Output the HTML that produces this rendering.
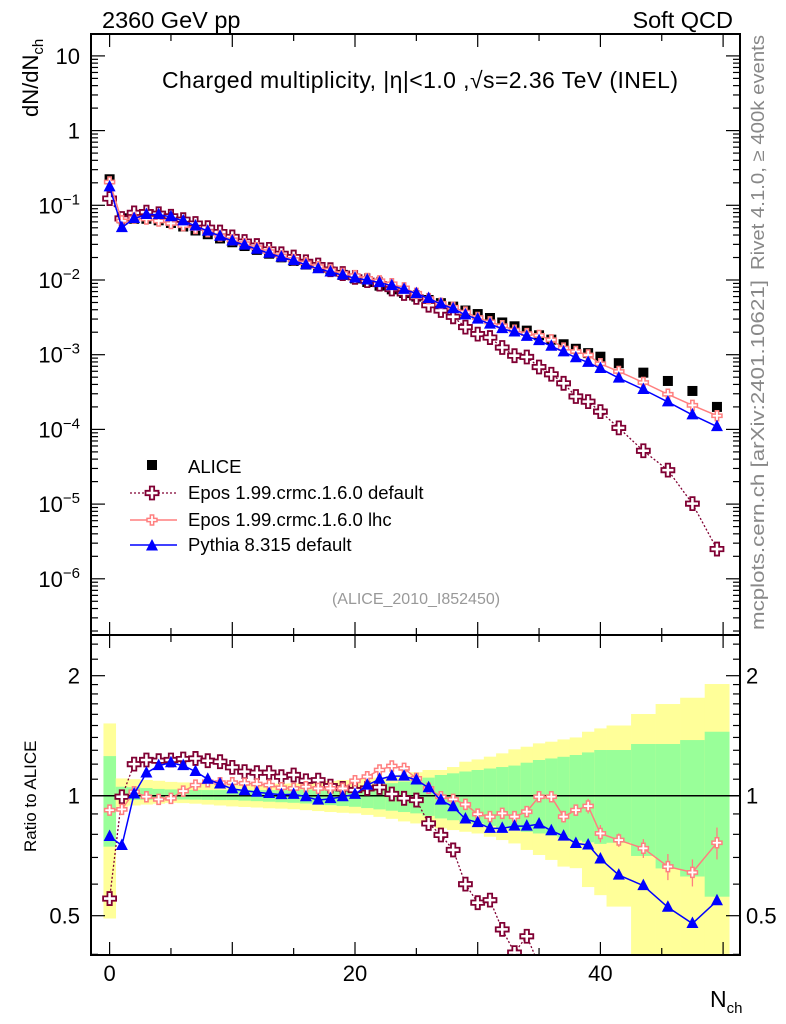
<!DOCTYPE html>
<html><head><meta charset="utf-8">
<style>
html,body{margin:0;padding:0;background:#fff;width:786px;height:1024px;overflow:hidden;}
svg{display:block;font-family:"Liberation Sans",sans-serif;}
</style></head>
<body>
<svg id="chart" width="786" height="1024" viewBox="0 0 786 1024" xmlns="http://www.w3.org/2000/svg">
<defs>
<clipPath id="clipTop"><rect x="91" y="34" width="649" height="601"/></clipPath>
<clipPath id="clipBot"><rect x="91" y="635" width="649" height="320"/></clipPath>
</defs>
<g id="bands" clip-path="url(#clipBot)"></g>
<line x1="91" x2="740" y1="795.7" y2="795.7" stroke="#000" stroke-width="1.5"/>
<g id="topMarks" clip-path="url(#clipTop)"></g>
<g id="botMarks" clip-path="url(#clipBot)"></g>
<g id="axes"></g>
<rect x="91" y="34" width="649" height="601" fill="none" stroke="#000" stroke-width="2"/>
<rect x="91" y="635" width="649" height="320" fill="none" stroke="#000" stroke-width="2"/>

<text x="102" y="28" font-size="23.5">2360 GeV pp</text>
<text x="733" y="28" font-size="23.5" text-anchor="end">Soft QCD</text>
<text x="420" y="88" font-size="23" text-anchor="middle" textLength="516">Charged multiplicity, |η|&lt;1.0 ,√s=2.36 TeV (INEL)</text>
<text transform="translate(38,117) rotate(-90)" font-size="22">dN/dN<tspan font-size="15" dy="5">ch</tspan></text>
<text transform="translate(36,852) rotate(-90)" font-size="17">Ratio to ALICE</text>
<text x="710" y="1007" font-size="23">N<tspan font-size="15" dy="6">ch</tspan></text>
<text transform="translate(764,270) rotate(-90)" font-size="18" fill="#888" textLength="235" lengthAdjust="spacingAndGlyphs">Rivet 4.1.0, ≥ 400k events</text>
<text transform="translate(764,630) rotate(-90)" font-size="18" fill="#888" textLength="350" lengthAdjust="spacingAndGlyphs">mcplots.cern.ch [arXiv:2401.10621]</text>
<text x="416" y="604" font-size="16" fill="#999" text-anchor="middle">(ALICE_2010_I852450)</text>

<g id="legend">
<rect x="147" y="460" width="10" height="10" fill="#000"/>
<text x="188" y="473" font-size="18.5">ALICE</text>
<line x1="130" x2="177" y1="493" y2="493" stroke="#800033" stroke-width="1.2" stroke-dasharray="2,2"/>
<text x="188" y="499" font-size="18.5">Epos 1.99.crmc.1.6.0 default</text>
<line x1="130" x2="177" y1="520" y2="520" stroke="#ff7f7f" stroke-width="1.5"/>
<text x="188" y="526" font-size="18.5">Epos 1.99.crmc.1.6.0 lhc</text>
<line x1="130" x2="177" y1="545" y2="545" stroke="#0000ff" stroke-width="1.5"/>
<text x="188" y="551" font-size="18.5">Pythia 8.315 default</text>
<g id="legendMarks"></g>
</g>
</svg>
<script>
const nch = [0,1,2,3,4,5,6,7,8,9,10,11,12,13,14,15,16,17,18,19,20,21,22,23,24,25,26,27,28,29,30,31,32,33,34,35,36,37,38,39,40,41.5,43.5,45.5,47.5,49.5];
const binHalf = [0.5,0.5,0.5,0.5,0.5,0.5,0.5,0.5,0.5,0.5,0.5,0.5,0.5,0.5,0.5,0.5,0.5,0.5,0.5,0.5,0.5,0.5,0.5,0.5,0.5,0.5,0.5,0.5,0.5,0.5,0.5,0.5,0.5,0.5,0.5,0.5,0.5,0.5,0.5,0.5,0.5,1,1,1,1,1];
const alice = [0.223,0.067,0.066,0.066,0.063,0.058,0.052,0.046,0.041,0.036,0.032,0.0285,0.0253,0.0225,0.0201,0.018,0.0161,0.0145,0.013,0.0117,0.0105,0.0094,0.0084,0.0075,0.0067,0.006,0.0054,0.0049,0.0044,0.0039,0.0035,0.0031,0.0027,0.0024,0.0021,0.00182,0.00159,0.00138,0.0012,0.00105,0.00094,0.00077,0.000575,0.000445,0.000327,0.0002];
const ratioPythia = [0.79,0.75,1.01,1.14,1.19,1.21,1.19,1.15,1.10,1.07,1.04,1.03,1.02,1.013,1.006,1.008,0.994,0.975,0.983,0.994,1.008,1.063,1.10,1.12,1.12,1.095,1.047,0.975,0.938,0.874,0.856,0.828,0.828,0.839,0.839,0.849,0.817,0.792,0.759,0.752,0.694,0.632,0.595,0.525,0.478,0.545];
const ratioEposLhc = [0.92,0.924,1.023,0.994,0.979,0.985,1.027,1.063,1.084,1.078,1.078,1.074,1.07,1.063,1.047,1.043,1.053,1.043,1.043,1.043,1.09,1.116,1.16,1.187,1.171,1.105,1.043,0.994,0.979,0.951,0.899,0.886,0.903,0.886,0.912,0.994,0.994,0.886,0.92,0.942,0.804,0.774,0.738,0.664,0.642,0.762];
const errEposLhc = [0,0,0,0,0,0,0,0,0,0,0,0,0,0,0,0,0,0,0,0,0,0,0,0,0,0,0,0,0,0,0,0,0,0,0.02,0.03,0.03,0.03,0.03,0.04,0.04,0.03,0.04,0.05,0.05,0.07];
const ratioEposDef = [0.552,0.994,1.20,1.229,1.224,1.229,1.236,1.24,1.224,1.217,1.178,1.149,1.142,1.142,1.116,1.127,1.09,1.094,1.057,1.043,1.033,1.043,1.049,1.01,0.985,0.975,0.852,0.797,0.731,0.60,0.539,0.547,0.462,0.404,0.444,0.376,0.344,0.30,0.23,0.224,0.184,0.136,0.09,0.064,0.031,0.0125];
const yellowHi = [1.518,1.105,1.10,1.095,1.09,1.083,1.08,1.075,1.07,1.065,1.063,1.065,1.068,1.07,1.072,1.074,1.078,1.083,1.088,1.094,1.099,1.105,1.11,1.12,1.13,1.145,1.16,1.16,1.18,1.217,1.233,1.253,1.277,1.307,1.327,1.353,1.366,1.384,1.40,1.447,1.475,1.50,1.603,1.698,1.761,1.906];
const yellowLo = [0.492,0.938,0.945,0.95,0.955,0.96,0.958,0.955,0.95,0.945,0.94,0.937,0.934,0.93,0.928,0.925,0.92,0.915,0.91,0.906,0.903,0.895,0.885,0.875,0.862,0.852,0.84,0.828,0.82,0.812,0.804,0.789,0.774,0.759,0.731,0.71,0.69,0.664,0.658,0.59,0.563,0.527,0.3,0.3,0.3,0.3];
const greenHi = [1.257,1.053,1.05,1.045,1.04,1.037,1.035,1.034,1.033,1.033,1.033,1.033,1.033,1.033,1.033,1.035,1.036,1.038,1.04,1.042,1.045,1.055,1.065,1.075,1.085,1.095,1.11,1.127,1.138,1.15,1.16,1.17,1.18,1.19,1.21,1.229,1.24,1.252,1.265,1.284,1.302,1.302,1.348,1.348,1.379,1.447];
const greenLo = [0.745,0.975,0.976,0.977,0.978,0.979,0.978,0.977,0.976,0.975,0.975,0.972,0.969,0.966,0.963,0.96,0.956,0.952,0.947,0.942,0.938,0.931,0.924,0.917,0.91,0.903,0.89,0.877,0.868,0.86,0.852,0.84,0.83,0.82,0.812,0.804,0.795,0.785,0.772,0.764,0.757,0.762,0.706,0.657,0.627,0.558];
const xTicks = [0,20,40];
const yTicksTop = [10,1,0.1,0.01,0.001,0.0001,0.00001,0.000001];
const yTickLabelsTop = ["10","1","10<tspan dy='-9' font-size='15'>−1</tspan>","10<tspan dy='-9' font-size='15'>−2</tspan>","10<tspan dy='-9' font-size='15'>−3</tspan>","10<tspan dy='-9' font-size='15'>−4</tspan>","10<tspan dy='-9' font-size='15'>−5</tspan>","10<tspan dy='-9' font-size='15'>−6</tspan>"];
const yTicksRatio = [0.5,1,2];

const NS="http://www.w3.org/2000/svg";
const X = n => 109.6 + 12.27*n;
const YT = v => 130.6 - 74.7*Math.log10(v);
const YR = r => 795.7 - 120*Math.log2(r);
function mk(tag, attrs, parent){const e=document.createElementNS(NS,tag);for(const k in attrs)e.setAttribute(k,attrs[k]);parent.appendChild(e);return e;}

const bandsG=document.getElementById('bands');
nch.forEach((n,i)=>{
  const x0=X(n-binHalf[i]), w=X(n+binHalf[i])-x0;
  const y1=mk('rect',{x:x0,y:YR(yellowHi[i]),width:w+0.3,height:YR(yellowLo[i])-YR(yellowHi[i]),fill:'#ffff99'},bandsG);
  
  
  const g1=mk('rect',{x:x0,y:YR(greenHi[i]),width:w+0.3,height:YR(greenLo[i])-YR(greenHi[i]),fill:'#99ff99'},bandsG);
  
  
});

function crossPath(cx,cy,s){const a=s/2,b=s/6;return `M${cx-b},${cy-a}h${2*b}v${a-b}h${a-b}v${2*b}h${-(a-b)}v${a-b}h${-2*b}v${-(a-b)}h${-(a-b)}v${-2*b}h${a-b}z`;}
function marker(type,cx,cy,parent,name){
  let e;
  if(type==='square') e=mk('rect',{x:cx-5,y:cy-5,width:10,height:10,fill:'#000'},parent);
  else if(type==='tri') e=mk('path',{d:`M${cx},${cy-7}L${cx+6},${cy+4.5}L${cx-6},${cy+4.5}z`,fill:'#0000ff'},parent);
  else if(type==='crossBig') e=mk('path',{d:crossPath(cx,cy,13),fill:'#fff',stroke:'#800033','stroke-width':1.8},parent);
  else e=mk('path',{d:crossPath(cx,cy,10),fill:'#fff',stroke:'#ff7f7f','stroke-width':1.5},parent);
  
  
  return e;
}
function series(parent,vals,yf,color,dash,type,name,width){
  const pts=vals.map((v,i)=>X(nch[i]).toFixed(1)+','+yf(v).toFixed(1)).join(' ');
  const l=mk('polyline',{points:pts,fill:'none',stroke:color,'stroke-width':width},parent);
  if(dash) l.setAttribute('stroke-dasharray',dash);
  
  
  vals.forEach((v,i)=>marker(type,X(nch[i]),yf(v),parent,name+'-point'));
}
const topG=document.getElementById('topMarks');
const botG=document.getElementById('botMarks');
const pythiaVals=alice.map((a,i)=>a*ratioPythia[i]);
const eposLhcVals=alice.map((a,i)=>a*ratioEposLhc[i]);
const eposDefVals=alice.map((a,i)=>a*ratioEposDef[i]);
alice.forEach((v,i)=>marker('square',X(nch[i]),YT(v),topG,'alice-point'));
series(topG,eposDefVals,YT,'#800033','2,2','crossBig','epos-default',1.3);
series(topG,eposLhcVals,YT,'#ff7f7f',null,'crossSmall','epos-lhc',1.5);
series(topG,pythiaVals,YT,'#0000ff',null,'tri','pythia',1.5);

series(botG,ratioEposDef,YR,'#800033','2,2','crossBig','epos-default-ratio',1.3);
ratioEposLhc.forEach((r,i)=>{ if(errEposLhc[i]>0){
  const e=mk('line',{x1:X(nch[i]),x2:X(nch[i]),y1:YR(r+errEposLhc[i]),y2:YR(r-errEposLhc[i]),stroke:'#ff7f7f','stroke-width':1.3},botG);
  
  
}});
series(botG,ratioEposLhc,YR,'#ff7f7f',null,'crossSmall','epos-lhc-ratio',1.5);
series(botG,ratioPythia,YR,'#0000ff',null,'tri','pythia-ratio',1.5);

const lm=document.getElementById('legendMarks');
marker('crossBig',152,493,lm,'legend-epos-default-marker');
marker('crossSmall',152,520,lm,'legend-epos-lhc-marker');
marker('tri',152,546,lm,'legend-pythia-marker');

const ax=document.getElementById('axes');
function tick(x1,y1,x2,y2){const t=mk('line',{x1,y1,x2,y2,stroke:'#000','stroke-width':1.2},ax);}
for(let n=0;n<=50;n+=5){
  const x=X(n), L=(n%10===0)?13:7;
  tick(x,34,x,34+L); tick(x,635,x,635-L); tick(x,635,x,635+L); tick(x,955,x,955-L);
}
xTicks.forEach(n=>{const t=mk('text',{x:X(n),y:981,'font-size':22,'text-anchor':'middle'},ax);t.textContent=n;});
for(let d=-7;d<=1;d++){
  for(let m=1;m<=9;m++){
    const v=m*Math.pow(10,d); const y=YT(v);
    if(y<34||y>635) continue;
    const L=m===1?14:7;
    tick(91,y,91+L,y); tick(740,y,740-L,y);
  }
}
yTicksTop.forEach((v,i)=>{const t=mk('text',{x:80,y:YT(v)+8,'font-size':22,'text-anchor':'end'},ax);t.innerHTML=yTickLabelsTop[i];});
[0.4,0.5,0.6,0.7,0.8,0.9,1,1.1,1.2,1.3,1.4,1.5,1.6,1.7,1.8,1.9,2,2.2,2.4].forEach(r=>{
  const y=YR(r); if(y<635||y>955) return;
  const L=yTicksRatio.includes(r)?14:7;
  tick(91,y,91+L,y); tick(740,y,740-L,y);
});
yTicksRatio.forEach(r=>{
  const t=mk('text',{x:80,y:YR(r)+8,'font-size':22,'text-anchor':'end'},ax);t.textContent=r;
  const t2=mk('text',{x:746,y:YR(r)+8,'font-size':22},ax);t2.textContent=r;
});
</script>
</body></html>
